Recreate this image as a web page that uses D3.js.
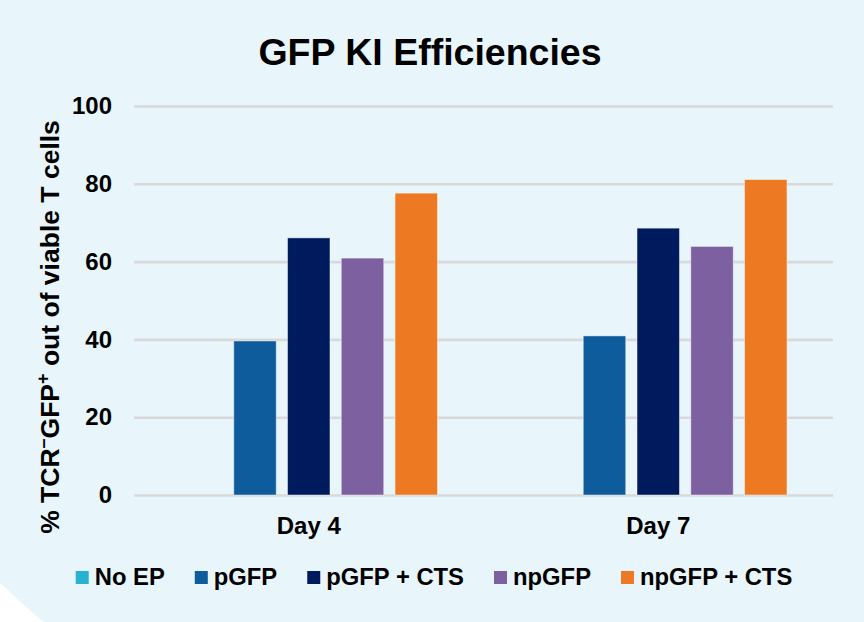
<!DOCTYPE html>
<html lang="en">
<head>
<meta charset="UTF-8">
<title>GFP KI Efficiencies</title>
<script src="https://d3js.org/d3.v7.min.js"></script>
<style>
  html, body { margin: 0; padding: 0; background: #ffffff; }
  svg text { font-family: "Liberation Sans", Arial, sans-serif; font-weight: bold; fill: #000; }
</style>
</head>
<body>
<svg id="chart" width="864" height="622"></svg>
<script>
// data
const days = ["Day 4", "Day 7"];
const series = ["No EP", "pGFP", "pGFP + CTS", "npGFP", "npGFP + CTS"];
const colors = ["#27b2d3", "#0e5c9c", "#001a5e", "#7d609f", "#ed7a23"];
const noEP = [0, 0];
const pGFP = [39.6, 40.9];
const pGFPCTS = [66.1, 68.6];
const npGFP = [60.9, 63.9];
const npGFPCTS = [77.6, 81.1];
const yTicks = [0, 20, 40, 60, 80, 100];

const values = [noEP, pGFP, pGFPCTS, npGFP, npGFPCTS];

let svg = d3.select("#chart");
let W = 864, H = 622;
let plot = {left: 134, right: 833, top: 106, bottom: 495};

// background: big light blue circle, white corner bottom left
svg.append("rect").attr("width", W).attr("height", H).attr("fill", "#ffffff");
svg.append("circle").attr("cx", 626).attr("cy", -64).attr("r", 900).attr("fill", "#e8f5fb");

let x0 = d3.scaleBand().domain(days).range([plot.left, plot.right]).padding(0);
let x1 = d3.scaleBand().domain(series)
  .range([46, x0.bandwidth() - 46]).paddingInner(0.21).paddingOuter(0);
let y = d3.scaleLinear().domain([0, 100]).range([plot.bottom, plot.top]);

// gridlines + tick labels
let yAxis = svg.append("g")
  .attr("transform", "translate(" + plot.left + ",0)")
  .call(d3.axisLeft(y).tickValues(yTicks).tickSize(-(plot.right - plot.left)).tickPadding(22));
yAxis.select(".domain").remove();
yAxis.selectAll("line").attr("stroke", "#d9d9d9").attr("stroke-width", 2.6);
yAxis.selectAll("text")
  .style("font-size", "24px").style("font-family", "Liberation Sans, Arial, sans-serif")
  .style("font-weight", "bold").attr("fill", "#000");

// bars
let groups = svg.append("g").selectAll("g")
  .data(days)
  .join("g")
  .attr("transform", d => "translate(" + x0(d) + ",0)");

groups.selectAll("rect")
  .data((d, di) => series.map((s, si) => ({s: s, v: values[si][di], c: colors[si]})))
  .join("rect")
  .attr("x", d => x1(d.s))
  .attr("width", x1.bandwidth())
  .attr("y", d => y(d.v))
  .attr("height", d => y(0) - y(d.v))
  .attr("fill", d => d.c)
  .attr("stroke", "rgba(255,255,255,0.45)")
  .attr("stroke-width", 1);

// x category labels
svg.append("g").selectAll("text")
  .data(days)
  .join("text")
  .attr("x", d => x0(d) + x0.bandwidth() / 2)
  .attr("y", 534)
  .attr("text-anchor", "middle")
  .style("font-size", "24px")
  .text(d => d);

// title
svg.append("text")
  .attr("x", 430).attr("y", 65)
  .attr("text-anchor", "middle")
  .style("font-size", "37.5px")
  .text("GFP KI Efficiencies");

// y axis title
let yt = svg.append("text")
  .attr("transform", "translate(59,327) rotate(-90)")
  .attr("text-anchor", "middle")
  .style("font-size", "26.5px");
yt.append("tspan").text("% TCR");
yt.append("tspan").attr("dy", -10).style("font-size", "18px").text("\u2013");
yt.append("tspan").attr("dy", 10).text("GFP");
yt.append("tspan").attr("dy", -10).style("font-size", "18px").text("+");
yt.append("tspan").attr("dy", 10).text(" out of viable T cells");

// legend
let legend = svg.append("g");
let lx = 0;
series.forEach((s, i) => {
  let item = legend.append("g").attr("transform", "translate(" + lx + ",0)");
  item.append("rect").attr("x", 0).attr("y", 571).attr("width", 13).attr("height", 13).attr("fill", colors[i]);
  let t = item.append("text").attr("x", 19).attr("y", 585).style("font-size", "23.8px").text(s);
  lx += 19 + t.node().getComputedTextLength() + 30;
});
let legW = lx - 30;
legend.attr("transform", "translate(" + (434 - legW / 2) + ",0)");
</script>
</body>
</html>
